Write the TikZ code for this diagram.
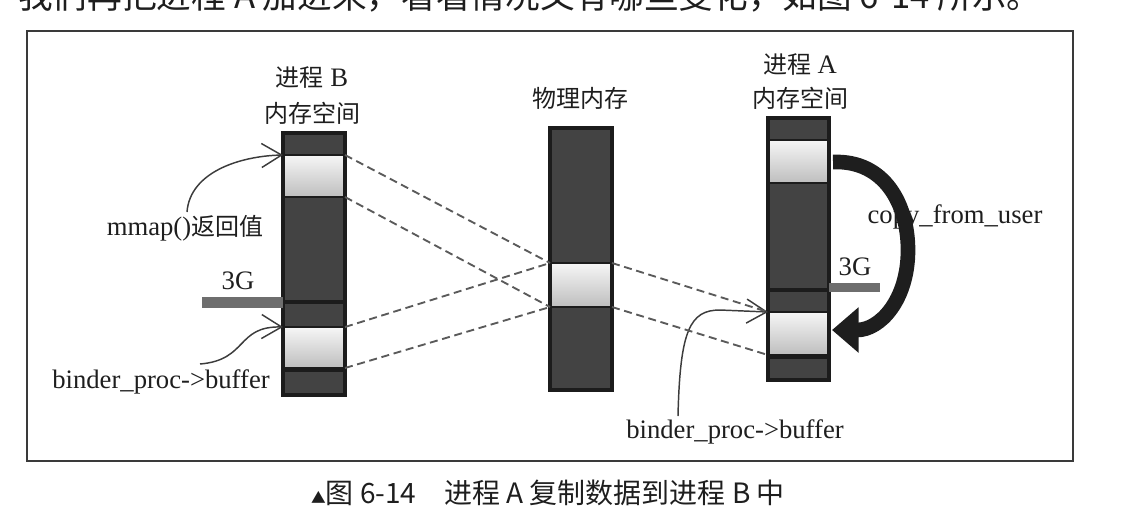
\documentclass[tikz,border=0pt]{standalone}
\usepackage{fontspec}
\setmainfont{Liberation Serif}
\newfontfamily\cjk{Noto Sans CJK SC}
\usetikzlibrary{arrows.meta,fit}
\newcommand\zh[1]{{\cjk\fontsize{18}{20}\selectfont #1}}
\definecolor{colFrame}{HTML}{3A3A3A}
\definecolor{colDark}{HTML}{434343}
\definecolor{colEdge}{HTML}{1C1C1C}
\definecolor{colLightTop}{HTML}{F6F6F6}
\definecolor{colLightBot}{HTML}{BEBEBE}
\definecolor{colDash}{HTML}{5A5A5A}
\definecolor{colArrow}{HTML}{3C3C3C}
\definecolor{colBig}{HTML}{1E1E1E}
\definecolor{colBar}{HTML}{6E6E6E}
\definecolor{colText}{HTML}{1E1E1E}
\tikzset{
  column/.style={fill=colDark, draw=none, inner sep=0pt, outer sep=0pt},
  lightseg/.style={top color=colLightTop, bottom color=colLightBot, draw=colEdge, line width=1.5pt, inner sep=0pt, outer sep=0pt},
  colborder/.style={draw=colEdge, line width=2.6pt},
  sepline/.style={draw=colEdge, line width=2.8pt},
  bar/.style={fill=colBar, draw=none},
  dashline/.style={draw=colDash, line width=1.4pt, dash pattern=on 6pt off 3.5pt},
  thinarrow/.style={draw=colArrow, line width=1.1pt, -{Straight Barb[length=15pt, width=18pt, line width=1.1pt]}},
  bigarrow/.style={draw=colBig, line width=11pt, -{Triangle[length=20pt, width=33pt]}},
  lab/.style={text=colText, inner sep=0pt, font=\fontsize{20}{22}\selectfont},
  caption/.style={text=colText, inner sep=0pt, font=\cjk\fontsize{21}{24}\selectfont},
}
\begin{document}
\begin{tikzpicture}[x=0.75pt, y=-0.75pt]
\useasboundingbox (0,0) rectangle (1124,512);
% cut-off line of the page above
\begin{scope}
\clip (0,0) rectangle (1124,14);
\node[anchor=base west, text=colText, inner sep=0pt, font=\cjk\fontsize{26}{28}\selectfont] (toptext) at (18,8) {我们再把进程 A 加进来，看看情况又有哪些变化，如图 6-14 所示。};
\end{scope}
% frame
\draw[colFrame, line width=1.5pt] (27,31) rectangle (1073,461);

% ---------- process B ----------
\node[column, fit={(283,133) (345,395)}] (Bcol) {};
\node[lightseg, fit={(283,155) (345,197)}] (B1) {};
\node[lightseg, fit={(283,327) (345,368)}] (B2) {};
\draw[sepline] (283,302) -- (345,302);
\draw[sepline] (283,370) -- (345,370);
\draw[colborder] (Bcol.south west) rectangle (Bcol.north east);
\fill[bar] (202,297) rectangle (283,308);
\node[lab] (B3G) at (238,281) {3G};
\node[lab] (Btitle) at (312,78) {\zh{进程} B};
\node[lab] (Bspace) at (312,113) {\zh{内存空间}};
\node[lab] (mmap) at (185,228) {mmap()\zh{返回值}};
\node[lab] (Bbuf) at (161,382) {binder\_proc->buffer};
\draw[thinarrow] (187,212) .. controls (190,172) and (240,156) .. (B1.north west);
\draw[thinarrow] (200,364) .. controls (248,360) and (236,326) .. (B2.north west);

% ---------- physical memory ----------
\node[column, fit={(550,128) (612,390)}] (Pcol) {};
\node[lightseg, fit={(550,263) (612,307)}] (P1) {};
\draw[colborder] (Pcol.south west) rectangle (Pcol.north east);
\node[lab] (Ptitle) at (580,98) {\zh{物理内存}};

% ---------- process A ----------
\node[column, fit={(768,118) (829,380)}] (Acol) {};
\node[lightseg, fit={(768,140) (829,183)}] (A1) {};
\node[lightseg, fit={(768,312) (829,355)}] (A2) {};
\draw[sepline] (768,290) -- (829,290);
\draw[sepline] (768,357) -- (829,357);
\draw[colborder] (Acol.south west) rectangle (Acol.north east);
\fill[bar] (829,283) rectangle (880,292);
\node[lab] (A3G) at (855,267) {3G};
\node[lab] (Atitle) at (800,65) {\zh{进程} A};
\node[lab] (Aspace) at (800,98) {\zh{内存空间}};
\node[lab] (Abuf) at (735,432) {binder\_proc->buffer};
\draw[thinarrow] (678,416) .. controls (680,330) and (690,310) .. (720,310) -- (A2.north west);

% ---------- dashed mappings ----------
\draw[dashline] (B1.north east) -- (P1.north west);
\draw[dashline] (B1.south east) -- (P1.south west);
\draw[dashline] (B2.north east) -- (P1.north west);
\draw[dashline] (B2.south east) -- (P1.south west);
\draw[dashline] (P1.north east) -- (A2.north west);
\draw[dashline] (P1.south east) -- (A2.south west);

% ---------- copy_from_user ----------
\node[lab] (copy) at (955,217) {copy\_from\_user};
\coordinate (cstart) at (833,162);
\coordinate (cend) at (832,330);
\draw[bigarrow] (cstart) .. controls (885,160) and (908,205) .. (908,250) .. controls (908,300) and (880,330) .. (cend);

% ---------- caption ----------
\node[caption] (cap) at (548,493) {{\fontsize{11}{12}\selectfont ▲}图 6-14\quad 进程 A 复制数据到进程 B 中};
\end{tikzpicture}
\end{document}
